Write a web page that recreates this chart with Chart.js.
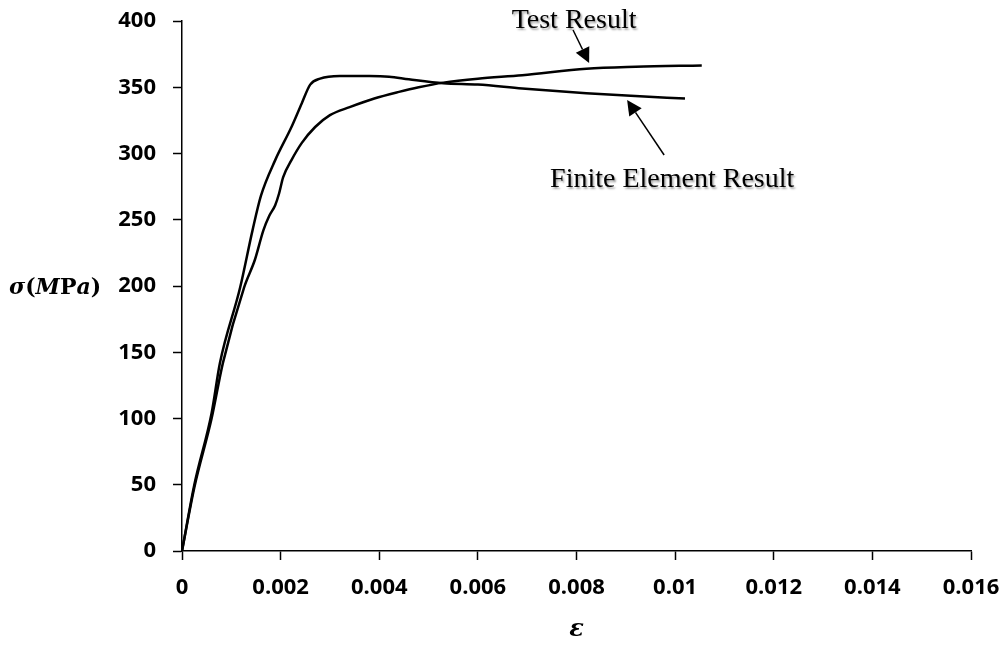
<!DOCTYPE html>
<html>
<head>
<meta charset="utf-8">
<script src="https://cdn.jsdelivr.net/npm/chart.js@4/dist/chart.umd.min.js"></script>
<style>
  html, body { margin: 0; padding: 0; background: #fff; }
  #wrap { width: 1007px; height: 645px; }
</style>
</head>
<body>
<div id="wrap"><canvas id="c" width="1007" height="645"></canvas></div>
<script>
// ---- data ----
const feStrain   = [0, 0.00025, 0.0006, 0.00077, 0.00118, 0.00143, 0.0016, 0.00189, 0.00222, 0.00243, 0.0026, 0.0028, 0.0032, 0.0038, 0.0042, 0.0046, 0.0053, 0.0060, 0.0069, 0.0082, 0.0091, 0.0102];
const feStress   = [0, 50, 104, 142, 199, 242, 268, 295, 320, 338, 352, 356.5, 358.5, 358.5, 358, 356, 353, 352, 349, 345.5, 343.5, 341.5];
const testStrain = [0, 0.00025, 0.0006, 0.00083, 0.00126, 0.00148, 0.00165, 0.00177, 0.00189, 0.00197, 0.00205, 0.00222, 0.00243, 0.0027, 0.0030, 0.0034, 0.0039, 0.0044, 0.0048, 0.0053, 0.0060, 0.0069, 0.0082, 0.0092, 0.01054];
const testStress = [0, 48, 100, 142, 199, 220, 242, 253, 261, 270, 282, 295, 308, 320, 329, 335, 341.5, 346.5, 350, 353.5, 356.5, 359, 364, 365.5, 366.5];
const xTickValues = [0, 0.002, 0.004, 0.006, 0.008, 0.01, 0.012, 0.014, 0.016];
const xTickLabels = ['0', '0.002', '0.004', '0.006', '0.008', '0.01', '0.012', '0.014', '0.016'];
const yTickLabels = ['0', '50', '100', '150', '200', '250', '300', '350', '400'];
const annotations = [
  { text: 'Test Result', textAt: 0.00795, baseline: 28, from: [0.00793, 393.2], to: [0.008256, 368.3] },
  { text: 'Finite Element Result', textAt: 0.00994, baseline: 187, from: [0.009777, 298.9], to: [0.009026, 340.4] }
];

function pts(xs, ys) { return xs.map((x, i) => ({ x: x, y: ys[i] })); }

const overlay = {
  id: 'overlay',
  afterDraw(chart) {
    const ctx = chart.ctx;
    const xs = chart.scales.x, ys = chart.scales.y;
    ctx.save();
    annotations.forEach(a => {
      ctx.save();
      ctx.font = '28px "Liberation Serif", "Times New Roman", serif';
      ctx.fillStyle = '#000';
      ctx.textAlign = 'center';
      ctx.textBaseline = 'alphabetic';
      ctx.shadowColor = 'rgba(0,0,0,0.35)';
      ctx.shadowOffsetX = 1.5;
      ctx.shadowOffsetY = 1.5;
      ctx.shadowBlur = 2;
      ctx.fillText(a.text, xs.getPixelForValue(a.textAt), a.baseline);
      ctx.restore();
      const x1 = xs.getPixelForValue(a.from[0]), y1 = ys.getPixelForValue(a.from[1]);
      const x2 = xs.getPixelForValue(a.to[0]), y2 = ys.getPixelForValue(a.to[1]);
      const ang = Math.atan2(y2 - y1, x2 - x1);
      const L = 15, W = 7.5;
      const bx = x2 - L * Math.cos(ang), by = y2 - L * Math.sin(ang);
      ctx.strokeStyle = '#000';
      ctx.lineWidth = 1.5;
      ctx.beginPath(); ctx.moveTo(x1, y1); ctx.lineTo(bx, by); ctx.stroke();
      ctx.fillStyle = '#000';
      ctx.beginPath();
      ctx.moveTo(x2, y2);
      ctx.lineTo(bx + W * Math.sin(ang), by - W * Math.cos(ang));
      ctx.lineTo(bx - W * Math.sin(ang), by + W * Math.cos(ang));
      ctx.closePath(); ctx.fill();
    });
    // y axis title: σ(MPa)
    const parts = [['σ', 'italic'], ['(', 'normal'], ['M', 'italic'], ['P', 'normal'], ['a', 'italic'], [')', 'normal']];
    const f = ' bold 22px "DejaVu Serif", serif';
    ctx.fillStyle = '#000';
    ctx.textBaseline = 'middle';
    ctx.textAlign = 'left';
    let total = 0;
    parts.forEach(p => { ctx.font = p[1] + f; total += ctx.measureText(p[0]).width; });
    let cx = 55 - total / 2;
    const cy = ys.getPixelForValue(200) + 2;
    parts.forEach(p => {
      ctx.font = p[1] + f;
      ctx.fillText(p[0], cx, cy);
      cx += ctx.measureText(p[0]).width;
    });
    // x axis title: ε
    ctx.font = 'italic bold 24px "DejaVu Serif", serif';
    ctx.textAlign = 'center';
    ctx.fillText('ε', xs.getPixelForValue(0.008), 630);
    ctx.restore();
  }
};

new Chart(document.getElementById('c'), {
  type: 'line',
  data: {
    datasets: [
      { label: 'Finite Element Result', data: pts(feStrain, feStress), borderColor: '#000', borderWidth: 2.5, pointRadius: 0, cubicInterpolationMode: 'monotone', fill: false },
      { label: 'Test Result', data: pts(testStrain, testStress), borderColor: '#000', borderWidth: 2.5, pointRadius: 0, cubicInterpolationMode: 'monotone', fill: false }
    ]
  },
  options: {
    responsive: false,
    animation: false,
    events: [],
    layout: { padding: { left: 0, right: 36, top: 21, bottom: 0 } },
    plugins: { legend: { display: false }, tooltip: { enabled: false } },
    scales: {
      x: {
        type: 'linear', min: 0, max: 0.016,
        afterBuildTicks(s) { s.ticks = xTickValues.map(v => ({ value: v })); },
        afterFit(s) { s.height = 94; s.paddingLeft = 0; s.paddingRight = 0; },
        ticks: {
          color: '#000', padding: 15,
          font: { family: 'Open Sans', weight: 'bold', size: 22 },
          callback: (v) => xTickLabels[xTickValues.findIndex(t => Math.abs(t - v) < 1e-9)],
          maxRotation: 0, autoSkip: false
        },
        grid: { display: true, drawOnChartArea: false, drawTicks: true, tickLength: 9, tickColor: '#000', tickWidth: 1.5 },
        border: { display: true, color: '#000', width: 1.5 }
      },
      y: {
        type: 'linear', min: 0, max: 400,
        afterFit(s) { s.width = 182; s.paddingTop = 0; s.paddingBottom = 0; },
        ticks: {
          stepSize: 50, color: '#000', padding: 17,
          font: { family: 'Open Sans', weight: 'bold', size: 22 },
          callback: (v) => yTickLabels[Math.round(v / 50)]
        },
        grid: { display: true, drawOnChartArea: false, drawTicks: true, tickLength: 9, tickColor: '#000', tickWidth: 1.5 },
        border: { display: true, color: '#000', width: 1.5 }
      }
    }
  },
  plugins: [overlay]
});
</script>
</body>
</html>
